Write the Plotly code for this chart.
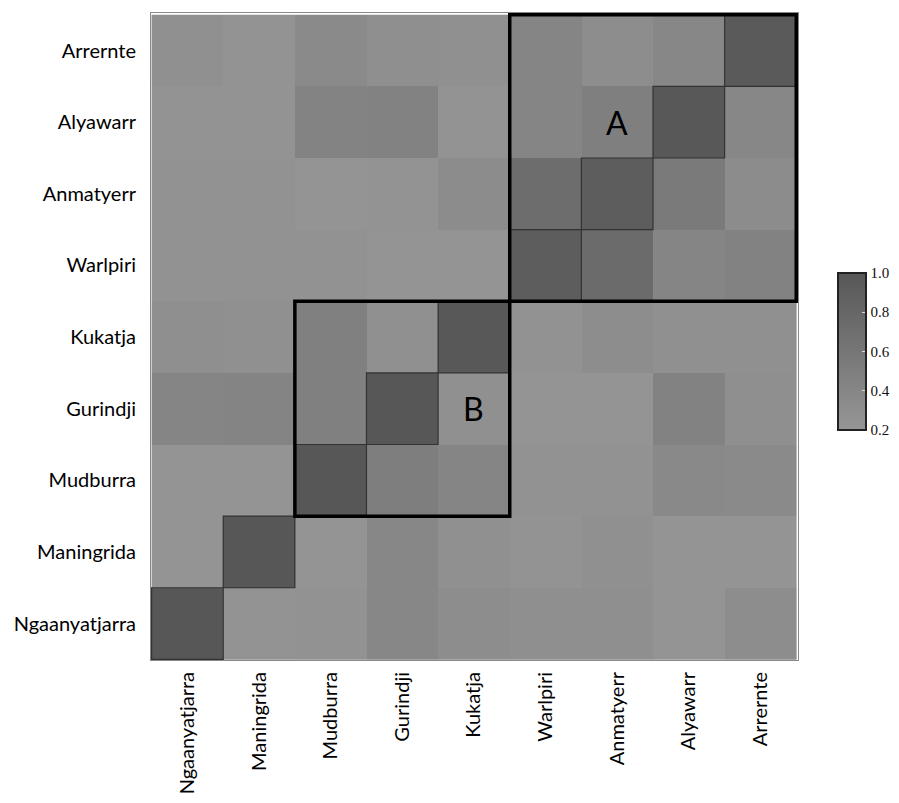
import plotly.graph_objects as go

languages = ["Ngaanyatjarra", "Maningrida", "Mudburra", "Gurindji", "Kukatja",
             "Warlpiri", "Anmatyerr", "Alyawarr", "Arrernte"]

# rows listed bottom (Ngaanyatjarra) to top (Arrernte); columns left to right as languages
row_ngaanyatjarra = [1.00, 0.24, 0.25, 0.39, 0.31, 0.29, 0.29, 0.23, 0.31]
row_maningrida    = [0.23, 1.00, 0.23, 0.39, 0.28, 0.24, 0.27, 0.23, 0.23]
row_mudburra      = [0.23, 0.23, 1.00, 0.51, 0.41, 0.25, 0.25, 0.37, 0.35]
row_gurindji      = [0.41, 0.43, 0.48, 1.00, 0.27, 0.23, 0.23, 0.45, 0.29]
row_kukatja       = [0.29, 0.27, 0.48, 0.27, 0.99, 0.25, 0.32, 0.27, 0.27]
row_warlpiri      = [0.25, 0.25, 0.25, 0.23, 0.23, 0.93, 0.75, 0.41, 0.45]
row_anmatyerr     = [0.25, 0.25, 0.23, 0.24, 0.33, 0.72, 0.93, 0.56, 0.33]
row_alyawarr      = [0.24, 0.24, 0.44, 0.45, 0.24, 0.41, 0.49, 0.99, 0.39]
row_arrernte      = [0.28, 0.24, 0.35, 0.29, 0.27, 0.41, 0.32, 0.39, 0.96]

z = [row_ngaanyatjarra, row_maningrida, row_mudburra, row_gurindji, row_kukatja,
     row_warlpiri, row_anmatyerr, row_alyawarr, row_arrernte]

cb_ticks = [0.2, 0.4, 0.6, 0.8, 1.0]
cb_labels = ["0.2", "0.4", "0.6", "0.8", "1.0"]

fig = go.Figure(go.Heatmap(
    z=z, x=languages, y=languages,
    zmin=0.2, zmax=1.0,
    colorscale=[[0, "#969696"], [1, "#575757"]],
    colorbar=dict(
        x=1.062, xanchor="left", y=0.477, yanchor="middle",
        len=0.243, lenmode="fraction", thickness=28,
        outlinewidth=2, outlinecolor="#222",
        tickvals=cb_ticks, ticktext=cb_labels,
        ticks="inside", tickcolor="#dddddd", ticklen=5,
        tickfont=dict(family="Liberation Serif", size=15, color="#111111"),
        xpad=0, ypad=0,
    ),
    hoverinfo="skip",
))

shapes = []
# diagonal cell outlines
for i in range(len(languages)):
    shapes.append(dict(type="rect", xref="x", yref="y",
                       x0=i - 0.5, x1=i + 0.5, y0=i - 0.5, y1=i + 0.5,
                       line=dict(color="#333333", width=1.2)))
# group boxes
shapes.append(dict(type="rect", xref="x", yref="y", x0=4.5, x1=8.5, y0=4.5, y1=8.5,
                   line=dict(color="black", width=3.5)))
shapes.append(dict(type="rect", xref="x", yref="y", x0=1.5, x1=4.5, y0=1.5, y1=4.5,
                   line=dict(color="black", width=3.5)))

annotations = [
    dict(x="Anmatyerr", y="Alyawarr", text="A", showarrow=False,
         font=dict(family="Lato", size=32, color="black")),
    dict(x="Kukatja", y="Gurindji", text="B", showarrow=False,
         font=dict(family="Lato", size=32, color="black")),
]

fig.update_layout(
    width=899, height=803,
    margin=dict(l=151, r=101, t=13, b=143, autoexpand=False),
    paper_bgcolor="white", plot_bgcolor="white",
    shapes=shapes, annotations=annotations,
    xaxis=dict(tickangle=-90, tickfont=dict(family="Lato", size=20, color="black"),
               showline=True, linecolor="#888", mirror=True, ticks="", showgrid=False,
               ticklabelstandoff=3, automargin=False),
    yaxis=dict(tickfont=dict(family="Lato", size=20, color="black"),
               showline=True, linecolor="#888", mirror=True, ticks="", showgrid=False,
               ticklabelstandoff=10, automargin=False),
    font=dict(family="Lato"),
)

fig.write_html("out.html", config={"displayModeBar": False},
               post_script="document.body.style.margin='0';")
